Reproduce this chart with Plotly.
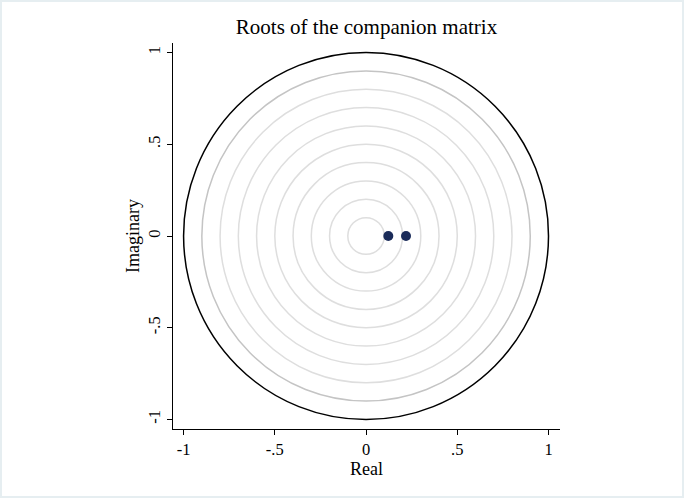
import plotly.graph_objects as go

# Data
root_real = [0.122, 0.219]
root_imag = [0.0, 0.0]
grid_radii = [0.1, 0.2, 0.3, 0.4, 0.5, 0.6, 0.7, 0.8]
ref_radius_inner = 0.9
unit_radius = 1.0
tick_vals = [-1, -0.5, 0, 0.5, 1]
tick_text = ["-1", "-.5", "0", ".5", "1"]

W, H = 684, 498
L, R, T, B = 173, 124, 43, 69
pw, ph = W - L - R, H - T - B

font = "Liberation Serif, DejaVu Serif, serif"

fig = go.Figure()

shapes = []
for r in grid_radii:
    shapes.append(dict(type="circle", xref="x", yref="y", x0=-r, y0=-r, x1=r, y1=r,
                       line=dict(color="#dedede", width=1.5), layer="below"))
shapes.append(dict(type="circle", xref="x", yref="y", x0=-ref_radius_inner, y0=-ref_radius_inner,
                   x1=ref_radius_inner, y1=ref_radius_inner,
                   line=dict(color="#c4c4c4", width=1.5), layer="below"))
shapes.append(dict(type="circle", xref="x", yref="y", x0=-unit_radius, y0=-unit_radius,
                   x1=unit_radius, y1=unit_radius,
                   line=dict(color="#000000", width=1.5), layer="below"))
# outer frame
shapes.append(dict(type="rect", xref="paper", yref="paper",
                   x0=(-L + 1) / pw, x1=(W - L - 1) / pw,
                   y0=(-B + 1) / ph, y1=(H - B - 1) / ph,
                   line=dict(color="#e6eef1", width=2)))

fig.add_trace(go.Scatter(x=root_real, y=root_imag, mode="markers",
                         marker=dict(color="#1a2b59", size=10), showlegend=False,
                         cliponaxis=False))

annotations = [
    dict(text="Real", xref="paper", yref="paper", x=0.5, y=-(469 - (H - B)) / ph,
         xanchor="center", yanchor="middle", showarrow=False, font=dict(size=18)),
    dict(text="Imaginary", xref="paper", yref="paper", x=-(L - 133) / pw, y=0.5,
         xanchor="center", yanchor="middle", showarrow=False, textangle=-90,
         font=dict(size=18)),
]

fig.update_layout(
    width=W, height=H,
    margin=dict(l=L, r=R, t=T, b=B),
    paper_bgcolor="white", plot_bgcolor="white",
    shapes=shapes,
    annotations=annotations,
    title=dict(text="Roots of the companion matrix", x=(L + pw / 2) / W, xanchor="center",
               y=1 - 27 / H, yanchor="middle",
               font=dict(family=font, size=21, color="black")),
    font=dict(family=font, color="black"),
    xaxis=dict(range=[-1.058, 1.063], tickvals=tick_vals, ticktext=tick_text,
               showgrid=False, zeroline=False, showline=True, linecolor="black", linewidth=1,
               ticks="outside", ticklen=5, tickcolor="black", tickfont=dict(size=16.5)),
    yaxis=dict(range=[-1.052, 1.052], tickvals=tick_vals, ticktext=tick_text,
               showgrid=False, zeroline=False, showline=True, linecolor="black", linewidth=1,
               ticks="outside", ticklen=5, tickcolor="black", tickfont=dict(size=16.5),
               tickangle=-90),
)

fig.write_html("out.html", config={"displayModeBar": False},
               post_script="document.body.style.margin='0';document.body.style.overflow='hidden';")
